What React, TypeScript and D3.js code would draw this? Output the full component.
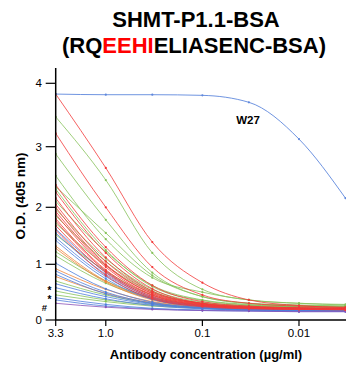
import React from 'react';
import * as d3 from 'd3';

const doses = [3.3, 1.0, 0.33, 0.1, 0.033, 0.01, 0.0033];
const xTickValues = [3.3, 1.0, 0.1, 0.01];
const xTickLabels = ['3.3', '1.0', '0.1', '0.01'];
const yTickValues = [0, 1, 2, 3, 4];

const colors: Record<string, string> = {
  red: '#f23a3a',
  green: '#86c25a',
  blue: '#4f7fdc',
  orange: '#f0843a',
  purple: '#8a52b8',
};

const seriesColors = [
  'red', 'green', 'red', 'green', 'green', 'red', 'green', 'green', 'red', 'red',
  'green', 'red', 'red', 'green', 'red', 'red', 'green', 'red', 'red', 'green',
  'red', 'blue', 'red', 'blue', 'green', 'blue', 'blue', 'orange', 'orange', 'green',
  'green', 'blue', 'orange', 'blue', 'blue', 'orange', 'green', 'blue', 'blue', 'green',
  'green', 'blue', 'blue', 'purple',
];

const seriesValues: number[][] = [
  [3.83, 2.65, 1.39, 0.67, 0.36, 0.26, 0.22],
  [3.47, 2.45, 1.2, 0.55, 0.36, 0.3, 0.28],
  [3.21, 2.0, 0.95, 0.45, 0.3, 0.25, 0.23],
  [2.88, 1.78, 0.85, 0.42, 0.3, 0.26, 0.25],
  [2.52, 1.44, 0.76, 0.5, 0.36, 0.3, 0.27],
  [2.37, 1.3, 0.62, 0.33, 0.25, 0.22, 0.21],
  [2.34, 1.55, 0.8, 0.42, 0.3, 0.27, 0.25],
  [2.3, 1.25, 0.6, 0.35, 0.27, 0.24, 0.23],
  [2.25, 1.2, 0.56, 0.3, 0.24, 0.22, 0.21],
  [2.15, 1.12, 0.52, 0.3, 0.23, 0.21, 0.2],
  [2.1, 1.22, 0.62, 0.36, 0.28, 0.25, 0.24],
  [2.05, 1.05, 0.5, 0.29, 0.23, 0.21, 0.2],
  [2.0, 1.0, 0.47, 0.28, 0.22, 0.2, 0.2],
  [1.97, 1.1, 0.55, 0.32, 0.26, 0.24, 0.23],
  [1.93, 0.98, 0.48, 0.29, 0.23, 0.21, 0.2],
  [1.88, 0.95, 0.45, 0.27, 0.22, 0.2, 0.19],
  [1.85, 1.05, 0.52, 0.3, 0.25, 0.23, 0.22],
  [1.8, 0.9, 0.44, 0.27, 0.22, 0.2, 0.19],
  [1.76, 0.88, 0.42, 0.26, 0.21, 0.2, 0.19],
  [1.72, 0.98, 0.5, 0.3, 0.25, 0.23, 0.22],
  [1.68, 0.85, 0.4, 0.25, 0.21, 0.19, 0.19],
  [1.62, 0.86, 0.42, 0.26, 0.21, 0.19, 0.18],
  [1.6, 0.8, 0.38, 0.24, 0.2, 0.19, 0.18],
  [1.55, 0.82, 0.4, 0.25, 0.2, 0.19, 0.18],
  [1.52, 0.88, 0.45, 0.28, 0.23, 0.21, 0.2],
  [1.47, 0.78, 0.38, 0.24, 0.2, 0.18, 0.18],
  [1.42, 0.74, 0.37, 0.24, 0.2, 0.18, 0.17],
  [1.32, 0.7, 0.38, 0.25, 0.21, 0.19, 0.18],
  [1.28, 0.68, 0.36, 0.24, 0.2, 0.19, 0.18],
  [1.22, 0.7, 0.4, 0.27, 0.23, 0.21, 0.2],
  [1.15, 0.66, 0.38, 0.26, 0.22, 0.2, 0.2],
  [1.02, 0.56, 0.32, 0.22, 0.19, 0.18, 0.17],
  [0.92, 0.55, 0.33, 0.24, 0.2, 0.19, 0.18],
  [0.88, 0.5, 0.3, 0.22, 0.19, 0.18, 0.17],
  [0.82, 0.47, 0.29, 0.21, 0.18, 0.17, 0.17],
  [0.78, 0.48, 0.31, 0.23, 0.2, 0.19, 0.18],
  [0.7, 0.45, 0.3, 0.23, 0.2, 0.19, 0.19],
  [0.65, 0.42, 0.28, 0.21, 0.18, 0.17, 0.17],
  [0.58, 0.38, 0.26, 0.2, 0.18, 0.17, 0.16],
  [0.52, 0.36, 0.27, 0.22, 0.2, 0.19, 0.19],
  [0.45, 0.33, 0.25, 0.21, 0.19, 0.18, 0.18],
  [0.4, 0.28, 0.21, 0.18, 0.17, 0.16, 0.16],
  [0.36, 0.25, 0.2, 0.17, 0.16, 0.15, 0.15],
  [0.3, 0.23, 0.19, 0.17, 0.16, 0.15, 0.15],
];

const w27Values = [3.83, 3.82, 3.82, 3.81, 3.7, 3.12, 2.15];

const markerTexts = ['*', '*', '#'];
const markerValues = [0.47, 0.3, 0.17];

const FONT = "'Liberation Sans', Arial, Helvetica, sans-serif";

export default function App() {
  const left = 55.7;
  const right = 345.5;
  const top = 68;
  const bottom = 320;

  const x = d3.scaleLog().domain([3.3, 0.0033]).range([left, right]);
  const y = d3
    .scaleLinear()
    .domain([0, 1, 2, 3, 4])
    .range([320, 264.3, 207.3, 146.7, 83.3]);

  const line = d3
    .line<number>()
    .x((_, i) => x(doses[i]))
    .y((v) => y(v))
    .curve(d3.curveMonotoneX);

  const rank: Record<string, number> = { green: 0, orange: 1, blue: 2, purple: 3, red: 4 };
  const order = seriesValues
    .map((v, i) => ({ v, c: seriesColors[i], i }))
    .sort((a, b) => rank[a.c] - rank[b.c]);

  return (
    <svg
      width={346}
      height={367}
      style={{ position: 'absolute', left: 0, top: 0, background: '#fff' }}
      fontFamily={FONT}
    >
      <defs>
        <clipPath id="plot">
          <rect x={left} y={top - 2} width={right - left + 2} height={bottom - top + 2} />
        </clipPath>
      </defs>
      <text x={196} y={27} textAnchor="middle" fontSize={22} fontWeight="bold">
        SHMT-P1.1-BSA
      </text>
      <text x={194} y={52.5} textAnchor="middle" fontSize={22} fontWeight="bold">
        (RQ<tspan fill="#ff0000">EEHI</tspan>ELIASENC-BSA)
      </text>

      <g clipPath="url(#plot)">
        {order.map(({ v, c, i }) => (
          <g key={i}>
            <path d={line(v) || ''} fill="none" stroke={colors[c]} strokeWidth={0.8} />
            {v.map((val, j) => (
              <circle key={j} cx={x(doses[j])} cy={y(val)} r={1.1} fill={colors[c]} />
            ))}
          </g>
        ))}
        <path d={line(w27Values) || ''} fill="none" stroke="#5f88dc" strokeWidth={0.9} />
        {w27Values.map((val, j) => (
          <circle key={j} cx={x(doses[j])} cy={y(val)} r={1.1} fill="#5f88dc" />
        ))}
      </g>

      <text x={248} y={123.5} textAnchor="middle" fontSize={11.5} fontWeight="bold">
        W27
      </text>

      <line x1={left} y1={top} x2={left} y2={bottom} stroke="#000" strokeWidth={1.5} />
      <line x1={left - 0.75} y1={bottom} x2={346} y2={bottom} stroke="#000" strokeWidth={1.5} />
      {yTickValues.map((t) => (
        <g key={t}>
          <line x1={left - 10} y1={y(t)} x2={left} y2={y(t)} stroke="#000" strokeWidth={1.2} />
          <text x={42} y={y(t) + 4} textAnchor="end" fontSize={11.5}>
            {t}
          </text>
        </g>
      ))}
      {xTickValues.map((t, i) => (
        <g key={t}>
          <line x1={x(t)} y1={bottom} x2={x(t)} y2={bottom + 6} stroke="#000" strokeWidth={1.2} />
          <text x={x(t)} y={337} textAnchor="middle" fontSize={11.5}>
            {xTickLabels[i]}
          </text>
        </g>
      ))}

      {markerTexts.map((m, i) => (
        <text
          key={i}
          x={m === '#' ? 44.5 : 49.5}
          y={y(markerValues[i])}
          textAnchor="middle"
          fontSize={m === '#' ? 9.5 : 10}
          fontWeight="bold"
        >
          {m}
        </text>
      ))}

      <text
        transform={`translate(25,196) rotate(-90)`}
        textAnchor="middle"
        fontSize={13.5}
        fontWeight="bold"
      >
        O.D. (405 nm)
      </text>
      <text x={206} y={359} textAnchor="middle" fontSize={13} fontWeight="bold">
        Antibody concentration (µg/ml)
      </text>
    </svg>
  );
}
